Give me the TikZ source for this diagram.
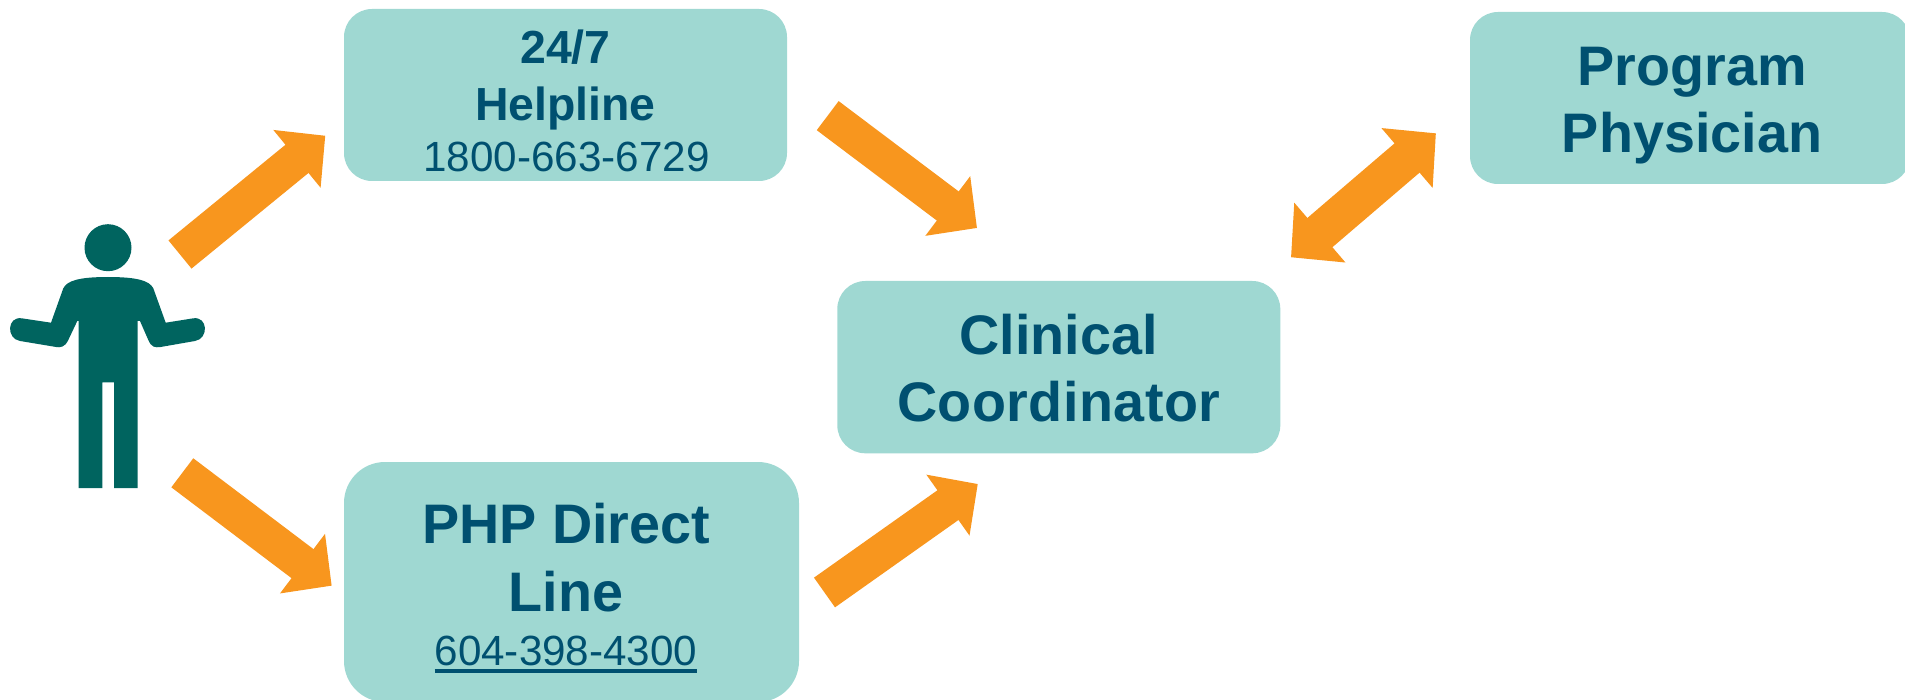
\documentclass[tikz,border=0pt]{standalone}
\usepackage{fontspec}
\setmainfont{Liberation Sans}
\usetikzlibrary{arrows.meta}
\definecolor{boxfill}{HTML}{9FD8D2}
\definecolor{boxtext}{HTML}{005070}
\definecolor{arroworange}{HTML}{F8961E}
\definecolor{persongreen}{HTML}{00645F}
\newcommand{\bigbold}{\bfseries\fontsize{55.7}{54}\selectfont}
\newcommand{\midbold}{\bfseries\fontsize{46.4}{51}\selectfont}
\newcommand{\phonefont}{\fontsize{42.2}{51}\selectfont}
\newsavebox{\phonebox}
\newcommand{\ulinephone}[1]{\sbox{\phonebox}{#1}\rlap{\rule[-7.5pt]{\wd\phonebox}{3.4pt}}\usebox{\phonebox}}
\tikzset{
  infobox/.style={fill=boxfill,text=boxtext,inner sep=0pt,outer sep=0pt,align=center,rounded corners=28pt},
  flowarrow/.style={draw=arroworange,line width=36.4pt,
    -{Triangle[length=36.6pt,width=72.5pt,fill=arroworange]}},
  twoway/.style={draw=arroworange,line width=38.5pt,
    {Triangle[length=38pt,width=76.5pt,fill=arroworange]}-{Triangle[length=38pt,width=76.5pt,fill=arroworange]}},
}
\begin{document}
\begin{tikzpicture}[x=1pt,y=-1pt]
\useasboundingbox (0,0) rectangle (1905,700);
% person
\fill[persongreen] (108,247.7) circle[radius=23.5pt];
\fill[persongreen] (78.7,488) -- (78.7,321) -- (77.3,321) -- (68.3,340)
  .. controls (65,347.3) and (60,347.8) .. (56,347) -- (20,341)
  .. controls (6,338.6) and (7,316.2) .. (21.7,318.3) -- (51,322.7) -- (63.3,288.3)
  .. controls (67,281) and (78,277) .. (108,277)
  .. controls (138,277) and (149.6,281) .. (153.3,288.3)
  -- (165.7,322.7) -- (193.3,318.3)
  .. controls (208,316.2) and (209,338.6) .. (195,341) -- (160.6,347)
  .. controls (155,347.8) and (151.3,347.3) .. (148.3,340) -- (140,321) -- (137.7,321)
  -- (137.7,488) -- (114,488) -- (114,382.3) -- (102.3,382.3) -- (102.3,488) -- cycle;
% boxes
\node[infobox,minimum width=443pt,minimum height=172pt,font=\phonefont] (helpline) at (565.5,95)
  {{\midbold\rule{0pt}{55pt}24/7}\\[6pt]{\midbold Helpline}\\\hspace*{2pt}1800-663-6729\rule[-9pt]{0pt}{9pt}};
\node[infobox,minimum width=440pt,minimum height=172pt,font=\bigbold] (physician) at (1690,98)
  {\hspace*{4pt}\rule{0pt}{73.7pt}Program\\[12.6pt]\hspace*{4pt}Physician\rule[-31.7pt]{0pt}{31.7pt}};
\node[infobox,minimum width=443pt,minimum height=172.3pt,font=\bigbold] (coordinator) at (1058.8,367.15)
  {\rule{0pt}{73.3pt}Clinical\\[13.4pt]{\addfontfeature{LetterSpace=0.8}Coordinator}\rule[-31.6pt]{0pt}{31.6pt}};
\node[infobox,rounded corners=41pt,minimum width=455pt,minimum height=240pt,font=\phonefont] (direct) at (571.5,582)
  {\hspace*{-11pt}{\bigbold\rule{0pt}{81pt}PHP Direct}\\[17pt]\hspace*{-11pt}{\bigbold Line}\\[3pt]\hspace*{-11pt}\ulinephone{604-398-4300}\rule[-37pt]{0pt}{37pt}};
% connector ends
\coordinate (personUp) at (180,254.5);
\coordinate (helplineIn) at (325.3,135.7);
\coordinate (helplineOut) at (827.7,115.65);
\coordinate (coordinatorInA) at (977,228);
\coordinate (personDown) at (182.3,472.8);
\coordinate (directIn) at (331.7,585.7);
\coordinate (directOut) at (824.5,592.5);
\coordinate (coordinatorInB) at (977.8,484);
\coordinate (physicianEnd) at (1435.9,133.3);
\coordinate (coordinatorEnd) at (1291,257.3);
% connectors
\draw[flowarrow] (personUp) -- (helplineIn);
\draw[flowarrow] (helplineOut) -- (coordinatorInA);
\draw[flowarrow] (personDown) -- (directIn);
\draw[flowarrow] (directOut) -- (coordinatorInB);
\draw[twoway] (coordinatorEnd) -- (physicianEnd);
\end{tikzpicture}
\end{document}
